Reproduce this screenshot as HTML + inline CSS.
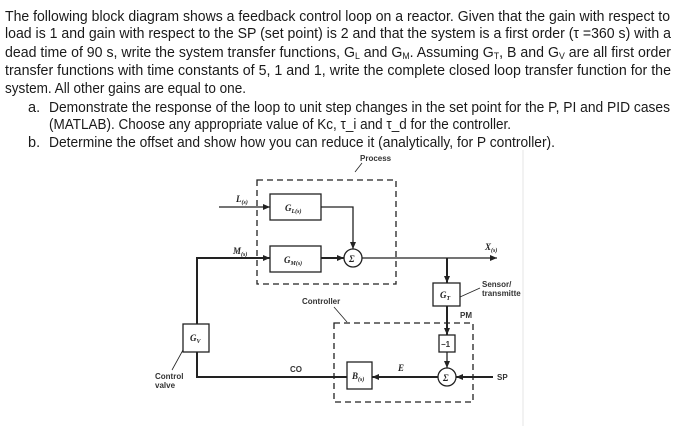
<!DOCTYPE html>
<html><head><meta charset="utf-8"><style>
html,body{margin:0;padding:0;background:#fff;}
svg{display:block}
.t{font-family:"Liberation Sans",sans-serif;font-size:14.5px;fill:#1a1a1a}
.d{font-family:"Liberation Serif",serif;font-size:9px;font-style:italic;font-weight:bold;fill:#222}
.s{font-family:"Liberation Sans",sans-serif;font-size:8px;font-weight:bold;fill:#333}
</style></head><body>
<svg width="700" height="426" viewBox="0 0 700 426" xmlns="http://www.w3.org/2000/svg">
<defs><marker id="a" markerWidth="8" markerHeight="8" refX="7" refY="4" orient="auto" markerUnits="userSpaceOnUse"><path d="M0,1 L7,4 L0,7 z" fill="#222"/></marker></defs>
<text class="t" x="5" y="21" textLength="665" lengthAdjust="spacingAndGlyphs">The following block diagram shows a feedback control loop on a reactor. Given that the gain with respect to</text>
<text class="t" x="5" y="38" textLength="666" lengthAdjust="spacingAndGlyphs">load is 1 and gain with respect to the SP (set point) is 2 and that the system is a first order (τ =360 s) with a</text>
<text class="t" x="5" y="57" textLength="666" lengthAdjust="spacingAndGlyphs">dead time of 90 s, write the system transfer functions, G<tspan font-size="9" dy="2">L</tspan><tspan dy="-2"> and G</tspan><tspan font-size="9" dy="2">M</tspan><tspan dy="-2">. Assuming G</tspan><tspan font-size="9" dy="2">T</tspan><tspan dy="-2">, B and G</tspan><tspan font-size="9" dy="2">V</tspan><tspan dy="-2"> are all first order</tspan></text>
<text class="t" x="5" y="75" textLength="666" lengthAdjust="spacingAndGlyphs">transfer functions with time constants of 5, 1 and 1, write the complete closed loop transfer function for the</text>
<text class="t" x="5" y="93" textLength="241" lengthAdjust="spacingAndGlyphs">system. All other gains are equal to one.</text>
<text class="t" x="28" y="112">a.</text>
<text class="t" x="49" y="112" textLength="621" lengthAdjust="spacingAndGlyphs">Demonstrate the response of the loop to unit step changes in the set point for the P, PI and PID cases</text>
<text class="t" x="49" y="129" textLength="462" lengthAdjust="spacingAndGlyphs">(MATLAB). Choose any appropriate value of Kc, τ_i and τ_d for the controller.</text>
<text class="t" x="28" y="147">b.</text>
<text class="t" x="49" y="147" textLength="506" lengthAdjust="spacingAndGlyphs">Determine the offset and show how you can reduce it (analytically, for P controller).</text>

<line x1="523" y1="150" x2="523" y2="426" stroke="#e4e4e4" stroke-width="1"/>

<g stroke="#222" fill="none" stroke-width="1.3">
<!-- process box -->
<rect x="257" y="180" width="139" height="104" stroke-dasharray="6,4"/>
<line x1="355" y1="172" x2="362" y2="163" stroke-width="0.8"/>
<!-- GL -->
<rect x="270" y="194" width="51" height="26" fill="#fff"/>
<line x1="219" y1="207" x2="270" y2="207" marker-end="url(#a)"/>
<polyline points="321,207 353,207 353,249" marker-end="url(#a)"/>
<!-- GM -->
<rect x="270" y="246" width="51" height="26" fill="#fff"/>
<polyline points="197,324 197,258 270,258" marker-end="url(#a)" stroke-width="2"/>
<line x1="321" y1="258" x2="344" y2="258" marker-end="url(#a)" stroke-width="2"/>
<circle cx="353" cy="258" r="9" fill="#fff"/>
<line x1="362" y1="258" x2="497" y2="258" marker-end="url(#a)"/>
<line x1="447" y1="258" x2="447" y2="283" marker-end="url(#a)" stroke-width="2"/>
<!-- GT -->
<rect x="433" y="283" width="27" height="23" fill="#fff"/>
<line x1="460" y1="297" x2="480" y2="288" stroke-width="0.8"/>
<!-- controller box -->
<rect x="334" y="323" width="139" height="79" stroke-dasharray="6,4"/>
<line x1="334" y1="307" x2="347" y2="322" stroke-width="0.8"/>
<line x1="447" y1="306" x2="447" y2="335" marker-end="url(#a)" stroke-width="2"/>
<rect x="439" y="335" width="16" height="17" fill="#fff"/>
<line x1="447" y1="352" x2="447" y2="368" marker-end="url(#a)"/>
<circle cx="447" cy="377" r="9" fill="#fff"/>
<line x1="493" y1="377" x2="456" y2="377" marker-end="url(#a)" stroke-width="2"/>
<line x1="438" y1="377" x2="372" y2="377" marker-end="url(#a)" stroke-width="2"/>
<rect x="347" y="362" width="25" height="27" fill="#fff"/>
<polyline points="347,377 197,377 197,352" stroke-width="2"/>
<!-- GV -->
<rect x="183" y="324" width="26" height="28" fill="#fff"/>
<line x1="183" y1="350" x2="172" y2="370" stroke-width="0.8"/>
</g>
<text class="s" x="360" y="161">Process</text>
<text class="d" x="236" y="202">L<tspan font-size="6" dy="2">(s)</tspan></text>
<text class="d" x="285" y="211">G<tspan font-size="6" dy="2">L(s)</tspan></text>
<text class="d" x="233" y="254">M<tspan font-size="6" dy="2">(s)</tspan></text>
<text class="d" x="284" y="263">G<tspan font-size="6" dy="2">M(s)</tspan></text>
<text class="d" x="349" y="262" font-style="normal">Σ</text>
<text class="d" x="485" y="250">X<tspan font-size="6" dy="2">(s)</tspan></text>
<text class="d" x="440" y="298">G<tspan font-size="6" dy="2">T</tspan></text>
<text class="s" x="482" y="287">Sensor/</text>
<text class="s" x="482" y="296">transmitte</text>
<text class="s" x="302" y="304">Controller</text>
<text class="s" x="460" y="318">PM</text>
<text class="s" x="441" y="347">−1</text>
<text class="d" x="443" y="381" font-style="normal">Σ</text>
<text class="s" x="497" y="380">SP</text>
<text class="d" x="398" y="371">E</text>
<text class="d" x="352" y="379">B<tspan font-size="6" dy="2">(s)</tspan></text>
<text class="s" x="290" y="372">CO</text>
<text class="d" x="190" y="341">G<tspan font-size="6" dy="2">V</tspan></text>
<text class="s" x="155" y="379">Control</text>
<text class="s" x="155" y="388" font-size="7">valve</text>
</svg>
</body></html>
